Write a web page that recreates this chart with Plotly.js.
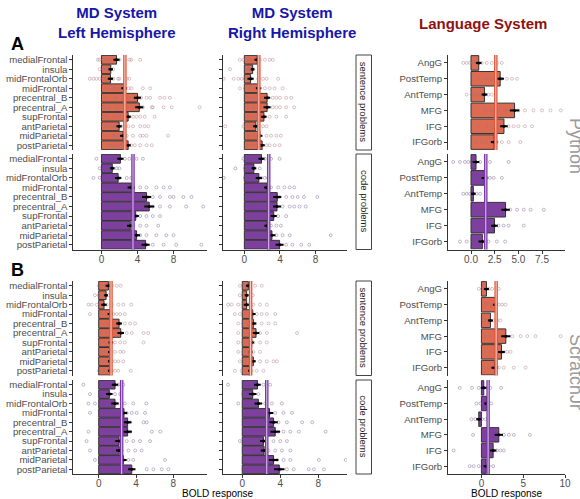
<!DOCTYPE html>
<html><head><meta charset="utf-8">
<script src="https://cdn.plot.ly/plotly-3.0.1.min.js"></script>
<style>html,body{margin:0;padding:0;background:#fff;}#chart{width:580px;height:499px;}</style>
</head><body><div id="chart"></div>
<script>
// ---------- categories ----------
const mdRegions = ['medialFrontal','insula','midFrontalOrb','midFrontal','precentral_B','precentral_A','supFrontal','antParietal','midParietal','postParietal'];
const langRegions = ['AngG','PostTemp','AntTemp','MFG','IFG','IFGorb'];

// ---------- Python (A) ----------
const pyLeftSentMean = [1.67,1.03,1.0,2.5,4.0,4.2,2.96,1.96,2.4,2.96];
const pyLeftSentSE   = [0.35,0.25,0.3,0.3,0.4,0.45,0.3,0.3,0.35,0.3];
const pyLeftSentLine = 2.6;
const pyLeftSentPts = [
 [-0.4,-0.2,0.2,0.55,0.9,1.5,1.7,2.0,3.1,3.3,4.3],
 [-0.2,0.2,0.5,0.7,0.9,1.3],
 [-1.3,-0.9,-0.55,-0.2,0.2,0.55,0.9,1.3,1.85,2.0,2.8,3.1],
 [0.55,1.3,1.5,1.85,2.2,2.6,3.0,3.3,4.6,5.4],
 [0.55,1.5,2.4,3.0,3.7,4.1,4.4,5.0,5.4,6.5,7.0,7.6],
 [0.2,0.9,1.7,2.8,3.5,3.9,4.3,4.6,5.6,5.7,6.9,7.8,10.9],
 [0.2,0.7,1.5,2.0,2.8,3.1,3.5,3.9,4.3,4.8,5.9],
 [0.2,0.55,0.9,1.3,1.5,1.85,2.2,3.0,3.5,4.3,4.8,5.2],
 [0.55,1.3,1.5,1.85,2.4,2.8,3.5,4.3,4.6,5.0,7.4],
 [0.9,1.3,1.7,2.0,2.4,3.0,3.3,3.7,4.3,5.0,5.6]
];
const pyLeftCodeMean = [2.1,1.2,1.85,3.3,5.0,5.3,3.8,3.2,3.9,4.9];
const pyLeftCodeSE   = [0.35,0.25,0.35,0.4,0.5,0.55,0.35,0.35,0.4,0.45];
const pyLeftCodeLine = 3.5;
const pyLeftCodePts = [
 [-0.55,0.2,0.55,1.3,1.7,2.0,2.6,3.1,3.9,4.6],
 [-0.2,0.37,0.55,0.9,1.3,1.7,2.0],
 [-0.9,-0.2,0.55,1.3,1.7,2.0,2.8,3.3],
 [0.9,1.7,2.4,3.0,3.5,4.3,5.0,6.1,6.9,7.6],
 [0.55,1.7,2.8,3.9,4.6,5.2,5.7,6.5,7.6,8.0,9.1,10.0],
 [0.55,2.0,3.5,4.6,5.2,5.7,6.5,7.6,9.4,11.3],
 [1.3,2.0,2.8,3.5,3.9,4.3,5.0,5.7,6.5],
 [0.55,1.3,2.0,2.8,3.1,3.5,4.3,5.0,6.3],
 [0.55,1.7,2.8,3.5,4.3,5.0,6.1,7.2,8.0],
 [0.9,2.0,3.1,4.3,5.0,5.7,6.9,8.3,11.1]
];
const pyRightSentMean = [1.44,0.93,0.7,1.6,2.56,2.56,2.2,1.3,1.74,2.0];
const pyRightSentSE   = [0.3,0.2,0.35,0.3,0.35,0.4,0.3,0.3,0.3,0.3];
const pyRightSentLine = 1.63;
const pyRightSentPts = [
 [-0.5,-0.1,0.26,0.63,1.2,1.74,2.3,2.85,3.2],
 [-1.6,0.26,0.44,0.63,0.8,1.0],
 [-2.3,-1.2,-0.67,-0.3,0.07,0.44,0.8,1.55,2.1,2.5,3.8],
 [-0.5,0.07,0.63,1.2,1.74,2.3,2.85,3.4,4.3],
 [0.26,0.8,1.37,2.1,2.67,3.2,3.6,4.0,4.7,5.26],
 [0.26,1.0,1.74,2.3,2.67,3.2,3.6,4.0,4.7,5.6],
 [0.26,0.8,1.37,1.9,2.3,2.85,3.6,4.7],
 [-2.15,-0.1,0.26,0.63,1.0,1.55,2.1,2.5],
 [0.26,0.63,1.2,1.74,2.5,3.0,3.6,4.1],
 [0.26,0.8,1.37,1.9,2.5,2.85,3.4,3.96]
];
const pyRightCodeMean = [1.93,1.07,1.63,2.56,3.7,3.67,3.3,2.56,3.1,3.96];
const pyRightCodeSE   = [0.35,0.25,0.35,0.35,0.45,0.45,0.35,0.3,0.4,0.45];
const pyRightCodeLine = 2.74;
const pyRightCodePts = [
 [-0.1,0.44,1.0,1.74,2.3,3.0,3.96],
 [-1.0,0.07,0.44,0.8,1.2,1.74],
 [-2.3,0.07,0.44,0.8,1.37,1.9,2.3,2.67],
 [0.26,0.8,1.55,2.3,3.0,3.8,4.5,5.1,5.6],
 [0.63,1.37,2.5,3.4,3.96,4.7,5.4,6.0,6.7,8.2],
 [1.0,1.74,2.67,3.6,4.3,5.1,5.6,6.2,6.9],
 [0.8,1.55,2.3,3.0,3.8,4.7],
 [0.26,0.8,1.37,1.9,2.5,3.0,3.6,4.1],
 [0.44,1.2,2.1,2.85,3.6,4.3,5.1,9.7],
 [0.63,1.74,2.85,3.96,4.7,5.4,6.4,7.3]
];
const pyLangSentMean = [0.82,3.08,1.42,4.6,3.48,2.45];
const pyLangSentSE   = [0.3,0.4,0.3,0.5,0.4,0.35];
const pyLangSentLine = 2.62;
const pyLangSentPts = [
 [-0.82,-0.46,-0.1,0.25,0.6,1.13,1.67,2.2,2.73,3.26],
 [0.78,1.49,1.84,2.2,2.55,2.9,3.26,3.8,4.33,4.86],
 [-0.46,0.07,0.43,0.78,1.13,1.49,1.84,2.2],
 [1.49,2.2,2.9,3.6,4.33,5.0,5.7,6.6,7.5,8.4,9.5],
 [0.78,1.67,2.4,2.9,3.4,3.97,4.5,5.0,5.7,6.45],
 [0.6,1.13,1.67,2.2,2.73,3.26,3.97,5.2]
];
const pyLangCodeMean = [0.53,1.42,0.25,3.65,2.48,1.2];
const pyLangCodeSE   = [0.35,0.3,0.25,0.45,0.35,0.4];
const pyLangCodeLine = 1.56;
const pyLangCodePts = [
 [-1.88,-1.17,-0.64,-0.28,0.07,0.43,0.96,2.0,3.97],
 [0.25,0.6,0.96,1.31,1.67,2.0,2.4,3.26],
 [-0.82,-0.46,-0.1,0.25,0.6,0.96],
 [1.13,1.67,2.4,3.1,3.6,4.15,4.86,5.57,6.3,7.7],
 [0.6,1.31,1.84,2.4,2.9,3.44,3.97,5.57],
 [-1.17,-0.46,0.25,0.78,1.31,1.84,2.73,3.6]
];

// ---------- ScratchJr (B) ----------
const sjLeftSentMean = [1.04,0.79,0.57,1.2,2.18,2.36,1.3,1.2,1.2,1.2];
const sjLeftSentSE   = [0.3,0.2,0.3,0.25,0.3,0.35,0.25,0.2,0.2,0.2];
const sjLeftSentLine = 1.32;
const sjLeftSentPts = [
 [0,0.32,0.68,1.04,1.4,1.93,2.36],
 [-0.4,0,0.32,0.68,1.04],
 [-1.1,-0.75,-0.2,0.32,0.86,1.4,2.1,2.64,3.5],
 [-0.93,0.32,0.86,1.2,1.57,1.93,2.3,2.8],
 [0.32,0.86,1.4,1.93,2.3,2.8,3.36,3.9],
 [0.32,0.86,1.4,1.93,2.46,3.0,3.54,4.8,5.3],
 [0.14,0.68,1.2,1.75,2.3,2.8,4.8],
 [0.14,0.5,0.86,1.2,1.75,2.3,2.64],
 [0.32,0.68,1.04,1.4,1.75,2.1,2.64],
 [0,0.5,1.04,1.4,1.75,2.1,3.43]
];
const sjLeftCodeMean = [1.75,1.14,1.75,2.71,3.1,3.1,2.18,2.2,2.64,3.54];
const sjLeftCodeSE   = [0.35,0.35,0.4,0.35,0.4,0.45,0.4,0.35,0.35,0.4];
const sjLeftCodeLine = 2.46;
const sjLeftCodePts = [
 [-1.64,0.5,1.04,1.57,2.1,2.64],
 [-0.93,0.14,0.68,1.2,1.75,2.3],
 [-1.1,-0.4,0.32,0.86,1.4,1.93,2.8,3.7,5.1],
 [-0.93,0.86,1.75,2.3,3.0,3.54,4.07,4.96],
 [0.5,1.4,2.1,2.8,3.36,4.8,5.14],
 [-1.1,0.86,1.75,2.64,3.36,5.7,6.6],
 [-1.3,0.5,1.2,1.75,2.3,3.0,3.7,4.43,5.5],
 [-0.93,0.5,1.2,1.75,2.46,3.18,3.9,4.6],
 [-0.4,0.5,1.2,1.93,2.64,3.18,3.7,7.1],
 [0.86,1.57,2.1,2.8,3.54,5.14,5.86,6.75,7.46]
];
const sjRightSentMean = [0.64,0.46,0.46,1.1,1.17,1.45,1.0,0.88,1.17,0.81];
const sjRightSentSE   = [0.25,0.2,0.3,0.3,0.3,0.35,0.25,0.2,0.25,0.2];
const sjRightSentLine = 0.88;
const sjRightSentPts = [
 [-0.25,0.1,0.46,0.81,1.35,2.05],
 [-0.25,0.1,0.46,0.81,1.1],
 [-1.49,-1.13,-0.42,0.1,0.64,1.17,1.88,2.58],
 [-0.78,-0.25,0.28,0.99,1.52,2.05,2.58,3.47],
 [-0.42,0.1,0.64,1.35,2.05,2.76,3.47],
 [-0.42,0.28,0.81,1.35,1.88,2.58,5.77],
 [-0.42,0.1,0.64,1.17,1.88,2.58],
 [-0.42,0.1,0.64,1.17,1.88],
 [-0.25,0.28,0.99,1.88,2.58,3.29,3.65],
 [-0.78,-0.07,0.46,0.99,1.52,2.23]
];
const sjRightCodeMean = [1.6,1.1,1.7,2.87,3.3,3.47,2.23,2.3,3.3,3.9];
const sjRightCodeSE   = [0.35,0.4,0.4,0.4,0.45,0.5,0.35,0.35,0.5,0.55];
const sjRightCodeLine = 2.58;
const sjRightCodePts = [
 [-1.49,0.46,0.99,1.52,2.23,2.94],
 [-2.2,0.1,0.64,1.17,1.7],
 [-0.42,0.46,0.99,1.7,2.41,3.12,4.18],
 [0.28,1.52,2.58,3.47,4.35,5.24],
 [1.17,2.23,3.29,3.82,4.7,6.3,7.36],
 [0.81,1.88,3.12,3.82,4.35,5.06,5.95,8.78],
 [-0.25,0.99,1.7,2.41,3.29,4.0,4.7],
 [0.46,1.35,2.05,2.76,3.47,4.18,5.06],
 [0.64,1.7,2.76,3.65,4.35,5.06,8.07,10.9],
 [0.1,1.88,2.94,4.0,4.7,5.42,7.0,7.54,8.6]
];
const sjLangSentMean = [0.6,1.68,1.08,2.92,2.4,1.6];
const sjLangSentSE   = [0.3,0.3,0.3,0.55,0.4,0.4];
const sjLangSentLine = 1.76;
const sjLangSentPts = [
 [-0.32,0.08,0.48,0.88,1.28,2.08],
 [0.48,0.88,1.28,1.68,2.08,2.48,2.88],
 [0.28,0.68,1.08,1.48,1.88,2.28],
 [0.48,1.08,1.88,2.68,3.68,4.68,5.48,6.48,9.48],
 [0.28,1.08,1.68,2.28,2.68,3.08,3.48],
 [0.28,0.88,1.48,2.08,2.68,3.88,5.28]
];
const sjLangCodeMean = [0.28,0.6,-0.32,2.08,1.4,0.56];
const sjLangCodeSE   = [0.35,0.25,0.3,0.5,0.4,0.3];
const sjLangCodeLine = 0.8;
const sjLangCodePts = [
 [-2.6,-1.12,-0.32,0.28,0.68,1.08,2.36],
 [-0.6,-0.12,0.28,0.68,1.16],
 [-1.2,-0.72,-0.32,0.08,0.48],
 [-1.0,0.48,1.08,1.88,2.68,3.28,3.88,5.8],
 [-3.32,0.28,0.88,1.48,1.88,2.28,2.68],
 [-1.4,-0.92,-0.32,0.28,0.88,1.4]
];

const mdTicks = [0,4,8];
const langATicks = [0,2.5,5,7.5], langATickText = ['0.0','2.5','5.0','7.5'];
const langBTicks = [0,5,10];

// ---------- styling / layout ----------
const W = 580, H = 499;
const FONT = 'Liberation Sans, Arial, Helvetica, sans-serif';
const sentFill = '#DD6B52', codeFill = '#7E3F9F';
const sentLineC = '#E2553A', codeLineC = '#7A35A6';
const sentPtC = 'rgba(165,110,120,0.5)', codePtC = 'rgba(110,80,135,0.5)';
const px = v => v / W, py = v => 1 - v / H;

const colL = [73.3, 207], colR = [222.7, 346.7], colG = [448, 565];
const rAS = [55, 150], rAC = [154, 249.5], rBS = [281, 375.5], rBC = [380, 474];

const panels = [
 {xd:colL, yd:rAS, range:[-3.13,11.72], cats:mdRegions, m:pyLeftSentMean, se:pyLeftSentSE, pts:pyLeftSentPts, line:pyLeftSentLine, s:true, showX:false, lab:true},
 {xd:colL, yd:rAC, range:[-3.13,11.72], cats:mdRegions, m:pyLeftCodeMean, se:pyLeftCodeSE, pts:pyLeftCodePts, line:pyLeftCodeLine, s:false, showX:true, tv:mdTicks, lab:true},
 {xd:colR, yd:rAS, range:[-2.43,11.5], cats:mdRegions, m:pyRightSentMean, se:pyRightSentSE, pts:pyRightSentPts, line:pyRightSentLine, s:true, showX:false, lab:false},
 {xd:colR, yd:rAC, range:[-2.43,11.5], cats:mdRegions, m:pyRightCodeMean, se:pyRightCodeSE, pts:pyRightCodePts, line:pyRightCodeLine, s:false, showX:true, tv:mdTicks, lab:false},
 {xd:colG, yd:rAS, range:[-2.43,9.93], cats:langRegions, m:pyLangSentMean, se:pyLangSentSE, pts:pyLangSentPts, line:pyLangSentLine, s:true, showX:false, lab:true},
 {xd:colG, yd:rAC, range:[-2.43,9.93], cats:langRegions, m:pyLangCodeMean, se:pyLangCodeSE, pts:pyLangCodePts, line:pyLangCodeLine, s:false, showX:true, tv:langATicks, tt:langATickText, lab:true},
 {xd:colL, yd:rBS, range:[-2.72,11.6], cats:mdRegions, m:sjLeftSentMean, se:sjLeftSentSE, pts:sjLeftSentPts, line:sjLeftSentLine, s:true, showX:false, lab:true},
 {xd:colL, yd:rBC, range:[-2.72,11.6], cats:mdRegions, m:sjLeftCodeMean, se:sjLeftCodeSE, pts:sjLeftCodePts, line:sjLeftCodeLine, s:false, showX:true, tv:mdTicks, lab:true},
 {xd:colR, yd:rBS, range:[-2.06,11.0], cats:mdRegions, m:sjRightSentMean, se:sjRightSentSE, pts:sjRightSentPts, line:sjRightSentLine, s:true, showX:false, lab:false},
 {xd:colR, yd:rBC, range:[-2.06,11.0], cats:mdRegions, m:sjRightCodeMean, se:sjRightCodeSE, pts:sjRightCodePts, line:sjRightCodeLine, s:false, showX:true, tv:mdTicks, lab:false},
 {xd:colG, yd:rBS, range:[-4,10], cats:langRegions, m:sjLangSentMean, se:sjLangSentSE, pts:sjLangSentPts, line:sjLangSentLine, s:true, showX:false, lab:true},
 {xd:colG, yd:rBC, range:[-4,10], cats:langRegions, m:sjLangCodeMean, se:sjLangCodeSE, pts:sjLangCodePts, line:sjLangCodeLine, s:false, showX:true, tv:langBTicks, lab:true}
];

const traces = [], shapes = [], annotations = [];
const layout = {
  width: W, height: H, margin: {l:0, r:0, t:0, b:0},
  paper_bgcolor: '#fff', plot_bgcolor: 'rgba(0,0,0,0)',
  showlegend: false, font: {family: FONT, color: '#4d4d4d'},
  bargap: 0.1
};

panels.forEach((p, i) => {
  const n = i + 1;
  const xa = n === 1 ? 'x' : 'x' + n, ya = n === 1 ? 'y' : 'y' + n;
  const xk = n === 1 ? 'xaxis' : 'xaxis' + n, yk = n === 1 ? 'yaxis' : 'yaxis' + n;
  layout[xk] = {
    domain: [px(p.xd[0]), px(p.xd[1])], anchor: ya, range: p.range,
    showline: p.showX, linecolor: '#333', linewidth: 1,
    ticks: p.showX ? 'outside' : '', ticklen: 3, tickcolor: '#333',
    showticklabels: p.showX, tickmode: 'array', tickvals: p.tv || [], ticktext: p.tt || (p.tv || []).map(String),
    ticklabelstandoff: -3,
    tickfont: {size: 10, color: '#4d4d4d'},
    showgrid: false, zeroline: false, fixedrange: true
  };
  layout[yk] = {
    domain: [py(p.yd[1]), py(p.yd[0])], anchor: xa, type: 'category',
    categoryarray: p.cats, range: [p.cats.length - 0.5, -0.5],
    tickmode: 'array', tickvals: p.cats, ticktext: p.cats,
    showticklabels: p.lab,
    showline: true, linecolor: '#333', linewidth: 1,
    ticks: 'outside', ticklen: 3, tickcolor: '#333',
    tickfont: {size: 9.6, color: '#4d4d4d'},
    showgrid: false, zeroline: false, fixedrange: true
  };
  // bars
  traces.push({
    type: 'bar', orientation: 'h', x: p.m, y: p.cats, xaxis: xa, yaxis: ya,
    width: 0.92,
    marker: {color: p.s ? sentFill : codeFill, line: {color: '#333', width: 1}},
    hoverinfo: 'skip'
  });
  // subject points
  const xs = [], ys = [];
  p.pts.forEach((arr, k) => arr.forEach(v => { xs.push(v); ys.push(p.cats[k]); }));
  traces.push({
    type: 'scatter', mode: 'markers', x: xs, y: ys, xaxis: xa, yaxis: ya, cliponaxis: true,
    marker: {symbol: 'circle-open', size: 3, color: p.s ? sentPtC : codePtC, line: {width: 0.8}},
    hoverinfo: 'skip'
  });
  // mean + SE
  traces.push({
    type: 'scatter', mode: 'markers', x: p.m, y: p.cats, xaxis: xa, yaxis: ya,
    marker: {size: 3, color: '#000', symbol: 'circle'},
    error_x: {type: 'data', array: p.se, color: '#000', thickness: 2, width: 0},
    hoverinfo: 'skip'
  });
  // reference vertical line
  const yref = (n === 1 ? 'y' : 'y' + n) + ' domain';
  shapes.push({type:'line', xref: xa, yref: yref, x0: p.line, x1: p.line, y0: 0, y1: 1,
    line: {color: p.s ? sentLineC : codeLineC, width: 3.5}, layer: 'above'});
  shapes.push({type:'line', xref: xa, yref: yref, x0: p.line, x1: p.line, y0: 0, y1: 1,
    line: {color: 'rgba(255,255,255,0.75)', width: 1}, layer: 'above'});
});

// facet strips (MD right column)
const strips = [[rAS,'sentence problems'],[rAC,'code problems'],[rBS,'sentence problems'],[rBC,'code problems']];
strips.forEach(([r, t]) => {
  shapes.push({type:'rect', xref:'paper', yref:'paper', x0: px(356), x1: px(371.5), y0: py(r[1]), y1: py(r[0]),
    line: {color: '#444', width: 1}, fillcolor: '#fff', layer: 'above'});
  annotations.push({xref:'paper', yref:'paper', x: px(363.8), y: py((r[0]+r[1])/2), text: t, textangle: 90,
    showarrow: false, font: {size: 9.5, color: '#1a1a1a', family: FONT}, xanchor: 'center', yanchor: 'middle'});
});

// titles
const titleFont = (c) => ({size: 15, color: c, family: FONT});
annotations.push({xref:'paper', yref:'paper', x: px(117), y: py(22), text: '<b>MD System<br>Left Hemisphere</b>',
  showarrow: false, font: titleFont('#1616A8'), xanchor: 'center', yanchor: 'middle'});
annotations.push({xref:'paper', yref:'paper', x: px(292), y: py(22), text: '<b>MD System<br>Right Hemisphere</b>',
  showarrow: false, font: titleFont('#1616A8'), xanchor: 'center', yanchor: 'middle'});
annotations.push({xref:'paper', yref:'paper', x: px(483), y: py(23), text: '<b>Language System</b>',
  showarrow: false, font: titleFont('#8E1212'), xanchor: 'center', yanchor: 'middle'});
annotations.push({xref:'paper', yref:'paper', x: px(17.5), y: py(44), text: '<b>A</b>',
  showarrow: false, font: {size: 18, color: '#000', family: FONT}, xanchor: 'center', yanchor: 'middle'});
annotations.push({xref:'paper', yref:'paper', x: px(17.5), y: py(270), text: '<b>B</b>',
  showarrow: false, font: {size: 18, color: '#000', family: FONT}, xanchor: 'center', yanchor: 'middle'});
annotations.push({xref:'paper', yref:'paper', x: px(218), y: py(493.5), text: 'BOLD response',
  showarrow: false, font: {size: 10, color: '#000', family: FONT}, xanchor: 'center', yanchor: 'middle'});
annotations.push({xref:'paper', yref:'paper', x: px(507), y: py(493.5), text: 'BOLD response',
  showarrow: false, font: {size: 10, color: '#000', family: FONT}, xanchor: 'center', yanchor: 'middle'});
// experiment strips (right edge, partly cut off in the original)
annotations.push({xref:'paper', yref:'paper', x: px(576), y: py(146), text: 'Python', textangle: 90,
  showarrow: false, font: {size: 18, color: '#9a9a9a', family: FONT}, xanchor: 'center', yanchor: 'middle'});
annotations.push({xref:'paper', yref:'paper', x: px(576), y: py(372), text: 'ScratchJr', textangle: 90,
  showarrow: false, font: {size: 18, color: '#9a9a9a', family: FONT}, xanchor: 'center', yanchor: 'middle'});

layout.shapes = shapes;
layout.annotations = annotations;

Plotly.newPlot('chart', traces, layout, {displayModeBar: false, staticPlot: true});
</script></body></html>
